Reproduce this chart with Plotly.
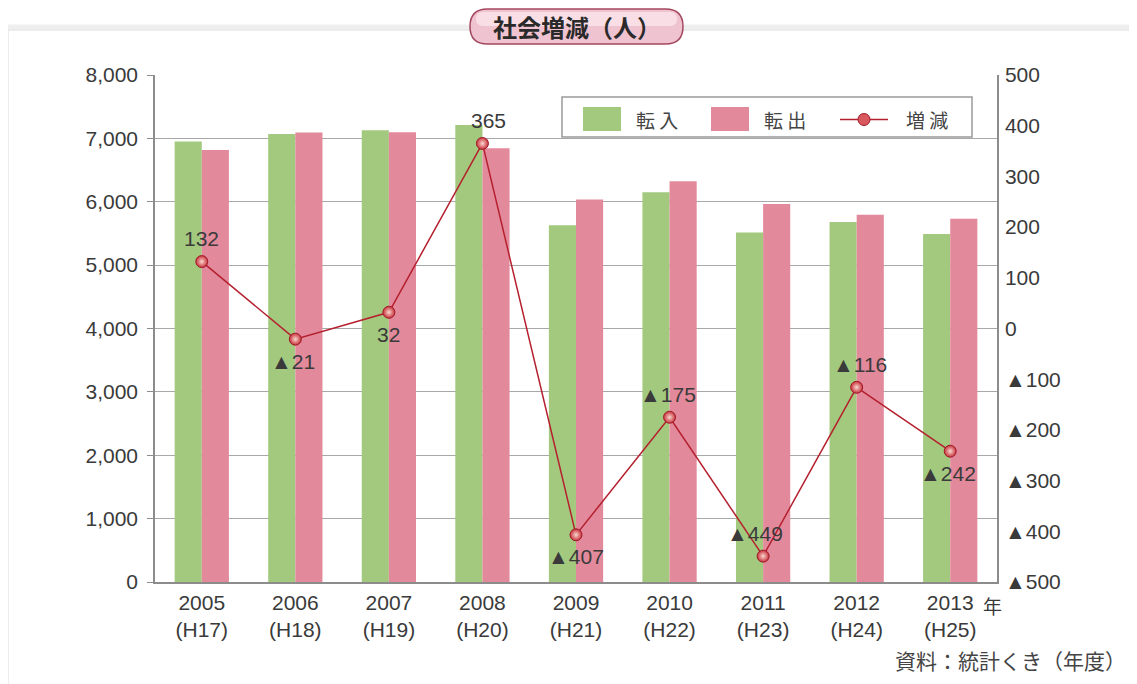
import plotly.graph_objects as go

# ---------------- data ----------------
years = ["2005", "2006", "2007", "2008", "2009", "2010", "2011", "2012", "2013"]
heisei = ["H17", "H18", "H19", "H20", "H21", "H22", "H23", "H24", "H25"]
tennyu = [6950, 7070, 7130, 7210, 5630, 6150, 5515, 5680, 5490]      # 転入
tenshutsu = [6818, 7091, 7098, 6845, 6037, 6325, 5964, 5796, 5732]   # 転出
zougen = [132, -21, 32, 365, -407, -175, -449, -116, -242]            # 増減
series_names = ["転 入", "転 出", "増 減"]
left_ticks = [0, 1000, 2000, 3000, 4000, 5000, 6000, 7000, 8000]
right_ticks = [-500, -400, -300, -200, -100, 0, 100, 200, 300, 400, 500]
label_side = ["above", "below", "below", "above", "below", "above", "above", "above", "below"]
label_dx = [0, -2, 0, 6, 0, -2, -8, 3, -2]

title_text = "社会増減（人）"
source_text = "資料：統計くき（年度）"

# ---------------- style ----------------
GREEN = "#A2C97E"
PINK = "#E3899C"
LINE_RED = "#B5202E"
TXT = "#3A3A3A"
FONT = "Liberation Sans, Arial, sans-serif"
JFONT = "Noto Sans CJK JP, sans-serif"
FS = 21

W, H = 1137, 684          # screen size
OFF = 8                    # page body margin
L, R, T, B = 155, 997, 75, 582  # plot area in screen pixels
PW, PH = R - L, B - T


def px(x):
    return (x - L) / PW


def py(y):
    return (B - y) / PH


def fmt_tri(v):
    return ("▲" + f"{abs(v):,}") if v < 0 else f"{v:,}"


ticklabels = [f"{y}<br>({h})" for y, h in zip(years, heisei)]
xidx = list(range(len(years)))

fig = go.Figure()
fig.add_trace(go.Bar(x=xidx, y=tennyu, name=series_names[0], marker=dict(color=GREEN, line=dict(width=0)),
                     showlegend=False))
fig.add_trace(go.Bar(x=xidx, y=tenshutsu, name=series_names[1], marker=dict(color=PINK, line=dict(width=0)),
                     showlegend=False))
fig.add_trace(go.Scatter(x=xidx, y=zougen, yaxis="y2", name=series_names[2], mode="lines+markers",
                         line=dict(color=LINE_RED, width=1.5),
                         marker=dict(size=12, color="#C8303A",
                                     gradient=dict(type="radial", color="#F9D8D0"),
                                     line=dict(color="#9E1A28", width=1)),
                         showlegend=False))

# data labels for 増減
for i, v, side, dx in zip(xidx, zougen, label_side, label_dx):
    fig.add_annotation(x=i, y=v, xref="x", yref="y2", text=fmt_tri(v), showarrow=False,
                       yshift=23 if side == "above" else -22, xshift=dx,
                       font=dict(family=FONT, size=FS, color=TXT))

shapes = []
# outer frame with soft shadow
shapes.append(dict(type="rect", xref="paper", yref="paper", x0=px(5), x1=px(1150), y0=py(700), y1=py(27),
                   line=dict(color="#EFEFEF", width=5), fillcolor="rgba(0,0,0,0)", layer="below"))
shapes.append(dict(type="rect", xref="paper", yref="paper", x0=px(8), x1=px(1150), y0=py(700), y1=py(30),
                   line=dict(color="#DCDCDC", width=1), fillcolor="white", layer="below"))


def pill_path(x0, x1, y0, y1):
    r = (y1 - y0) / 2
    yc = (y0 + y1) / 2
    pts = [
        ("M", [(x0 + r, y0)]),
        ("L", [(x1 - r, y0)]),
        ("Q", [(x1, y0), (x1, yc)]),
        ("Q", [(x1, y1), (x1 - r, y1)]),
        ("L", [(x0 + r, y1)]),
        ("Q", [(x0, y1), (x0, yc)]),
        ("Q", [(x0, y0), (x0 + r, y0)]),
    ]
    s = ""
    for cmd, ps in pts:
        s += cmd + " ".join(f"{px(a):.5f},{py(b):.5f}" for a, b in ps) + " "
    return s + "Z"


shapes.append(dict(type="path", xref="paper", yref="paper", path=pill_path(470, 683, 9, 44),
                   fillcolor="#F0C3D0", line=dict(color="#A3475F", width=1.5), layer="above"))
shapes.append(dict(type="path", xref="paper", yref="paper", path=pill_path(476, 677, 12, 26),
                   fillcolor="rgba(255,240,244,0.6)", line=dict(width=0), layer="above"))

# legend box
shapes.append(dict(type="rect", xref="paper", yref="paper", x0=px(562), x1=px(972), y0=py(137), y1=py(97),
                   fillcolor="white", line=dict(color="#9A9A9A", width=1.5), layer="above"))
shapes.append(dict(type="rect", xref="paper", yref="paper", x0=px(583), x1=px(621), y0=py(131), y1=py(107),
                   fillcolor=GREEN, line=dict(width=0), layer="above"))
shapes.append(dict(type="rect", xref="paper", yref="paper", x0=px(711), x1=px(749), y0=py(131), y1=py(107),
                   fillcolor=PINK, line=dict(width=0), layer="above"))
shapes.append(dict(type="line", xref="paper", yref="paper", x0=px(840), x1=px(888), y0=py(119.5), y1=py(119.5),
                   line=dict(color=LINE_RED, width=1.5), layer="above"))
shapes.append(dict(type="circle", xref="paper", yref="paper", x0=px(858), x1=px(870), y0=py(125.5), y1=py(113.5),
                   fillcolor="#D8585E", line=dict(color="#9E1A28", width=1), layer="above"))

fig.update_layout(shapes=shapes)

# legend labels
for name, xpos in zip(series_names, [634, 762, 904]):
    fig.add_annotation(xref="paper", yref="paper", x=px(xpos), y=py(119), xanchor="left", yanchor="middle",
                       text=name, showarrow=False, font=dict(family=JFONT, size=19, color="#444"))

# title
fig.add_annotation(xref="paper", yref="paper", x=px(576.5), y=py(27), xanchor="center", yanchor="middle",
                   text="<b>" + title_text + "</b>", showarrow=False,
                   font=dict(family=JFONT, size=24, color="#2A2A2A"))
# 年 unit
fig.add_annotation(xref="paper", yref="paper", x=px(981), y=py(605), xanchor="left", yanchor="middle",
                   text="年", showarrow=False, font=dict(family=JFONT, size=19, color=TXT))
# source
fig.add_annotation(xref="paper", yref="paper", x=px(1128), y=py(660), xanchor="right", yanchor="middle",
                   text=source_text, showarrow=False, font=dict(family=JFONT, size=21, color="#444"))

fig.update_layout(
    width=W - OFF, height=H - OFF,
    margin=dict(l=L - OFF, r=W - R, t=T - OFF, b=H - B, pad=0, autoexpand=False),
    paper_bgcolor="white",
    plot_bgcolor="#F5F1EE",
    barmode="group",
    bargap=0.42,
    bargroupgap=0,
    font=dict(family=FONT, size=FS, color=TXT),
    xaxis=dict(
        range=[-0.5, len(years) - 0.5], tickmode="array", tickvals=xidx, ticktext=ticklabels,
        showline=True, linecolor="#8C8C8C", linewidth=1.5, ticks="", showgrid=False, zeroline=False,
        tickangle=0, tickfont=dict(family=FONT, size=FS, color=TXT), ticklabelstandoff=1,
    ),
    yaxis=dict(
        range=[0, 8000], tickvals=left_ticks, tickformat=",", showline=True, linecolor="#8C8C8C",
        linewidth=1.5, ticks="outside", ticklen=6, tickcolor="#8C8C8C", showgrid=True,
        gridcolor="#A8A8A8", gridwidth=1, zeroline=False,
        tickfont=dict(family=FONT, size=FS, color=TXT), ticklabelstandoff=5,
    ),
    yaxis2=dict(
        range=[-500, 500], overlaying="y", side="right", tickvals=right_ticks,
        ticktext=[fmt_tri(v) for v in right_ticks], showline=True, linecolor="#8C8C8C", linewidth=1.5,
        ticks="", showgrid=False, zeroline=False,
        tickfont=dict(family=FONT, size=FS, color=TXT), ticklabelstandoff=2,
    ),
)

fig.write_html("out.html")
